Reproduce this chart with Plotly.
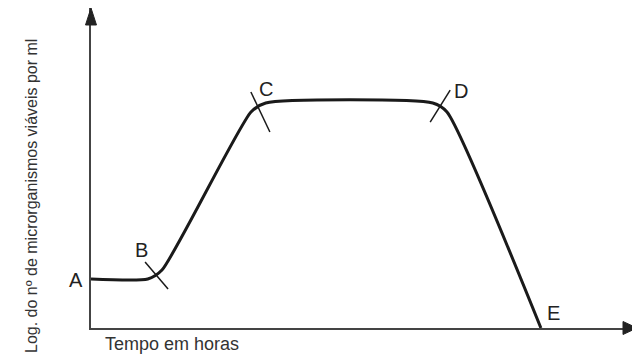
import plotly.graph_objects as go

# fases da curva de crescimento
fases = ["A", "B", "C", "D", "E"]
tempo_fase = [0, 1.21, 3.02, 6.45, 8.24]
log_fase = [1.53, 1.53, 7.03, 7.03, 0]

# pontos da curva (com as curvas suaves perto de B, C e D)
curva_tempo = [0, 1.04, 1.30, 2.93, 3.20, 6.26, 6.52, 8.24]
curva_log = [1.53, 1.53, 1.81, 6.75, 7.03, 7.03, 6.75, 0]

x_max = 10
y_max = 10

# a pagina html tem 8px de margem no body
OFF = 8
fig_w, fig_h = 640 - OFF, 364 - OFF
# area do grafico na janela: x 91..637, y 8..328
ml, mt = 91 - OFF, 8 - OFF
W, H = 637 - 91, 328 - 8
mr, mb = fig_w - ml - W, fig_h - mt - H

fig = go.Figure()
fig.add_trace(go.Scatter(x=curva_tempo, y=curva_log, mode='lines',
                         line=dict(color='#1a1a1a', width=3, shape='spline', smoothing=0.6),
                         hoverinfo='skip', showlegend=False))

# pequenos tracos que marcam B, C, D (pixels em relacao ao ponto)
tracos = {"B": (-12, 17, 11, -10), "C": (-5, 11, 14, -29), "D": (7, 13, -13, -19)}
shapes = []
for nome, (x0, y0, x1, y1) in tracos.items():
    i = fases.index(nome)
    shapes.append(dict(type='line', xsizemode='pixel', ysizemode='pixel',
                       xanchor=tempo_fase[i], yanchor=log_fase[i],
                       x0=x0, y0=y0, x1=x1, y1=y1,
                       line=dict(color='#1a1a1a', width=1.5)))


def seta(pontos):
    p = ' L'.join(f'{x:.5f},{y:.5f}' for x, y in pontos)
    return dict(type='path', xref='paper', yref='paper', path='M' + p + ' Z',
                fillcolor='#222', line=dict(color='#222', width=1))


# pontas de seta dos eixos
shapes.append(seta([(0, 1), (-5.5 / W, 1 - 17 / H), (5.5 / W, 1 - 17 / H)]))
shapes.append(seta([(1, 0), (1 - 14 / W, 6.5 / H), (1 - 14 / W, -6.5 / H)]))

annotations = []
# rotulos das fases
desloc = {"A": (-15, -1), "B": (-16, 29), "C": (10, 14), "D": (18, 12), "E": (13, 15)}
for nome, tx, ly in zip(fases, tempo_fase, log_fase):
    dx, dy = desloc[nome]
    annotations.append(dict(x=tx, y=ly, text=nome, showarrow=False, xshift=dx, yshift=dy,
                            font=dict(size=20, color='#222')))

annotations.append(dict(xref='paper', yref='paper', x=(20.5 - 91) / W, y=(328 - 196) / H,
                        text='Log. do nº de microrganismos viáveis por ml', textangle=-90,
                        showarrow=False, font=dict(size=16, color='#333')))
annotations.append(dict(xref='paper', yref='paper', x=(103 - 91) / W, y=(328 - 355.5) / H,
                        xanchor='left', text='Tempo em horas', showarrow=False,
                        font=dict(size=18, color='#333')))

fig.update_xaxes(range=[0, x_max], showline=True, linecolor='#444', linewidth=2,
                 showgrid=False, zeroline=False, showticklabels=False, ticks='')
fig.update_yaxes(range=[0, y_max], showline=True, linecolor='#444', linewidth=2,
                 showgrid=False, zeroline=False, showticklabels=False, ticks='')

fig.update_layout(width=fig_w, height=fig_h, margin=dict(l=ml, r=mr, t=mt, b=mb),
                  paper_bgcolor='white', plot_bgcolor='white',
                  font=dict(family='Arial, Liberation Sans, sans-serif'),
                  shapes=shapes, annotations=annotations)

fig.write_html("out.html")
